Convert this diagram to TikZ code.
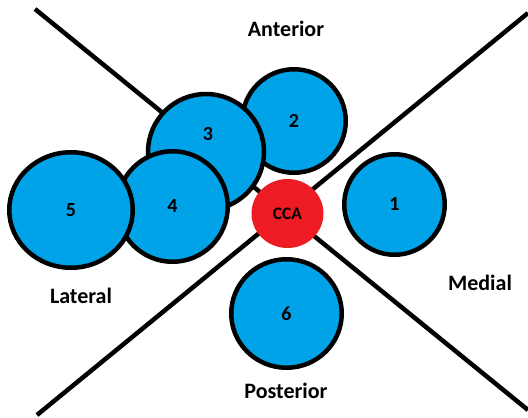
\documentclass[tikz,border=0pt]{standalone}
\usepackage{fontspec}
\setmainfont{Carlito}
\usepackage{xcolor}
\usetikzlibrary{shapes.geometric}
\definecolor{paintblue}{RGB}{0,162,232}
\definecolor{paintred}{RGB}{237,28,36}
\tikzset{vessel/.style={shape=ellipse,draw=black,line width=4.5pt,fill=paintblue,inner sep=0pt,font=\bfseries\fontsize{20}{20}\selectfont}}
\tikzset{num/.style={inner sep=0pt,font=\bfseries\fontsize{20}{20}\selectfont}}
\tikzset{CCAnode/.style={shape=ellipse,fill=paintred,inner sep=0pt,font=\bfseries\fontsize{17.5}{17.5}\selectfont}}
\tikzset{side/.style={anchor=base,inner sep=0pt,font=\bfseries\fontsize{22}{22}\selectfont}}

\begin{document}
\begin{tikzpicture}[x=1pt,y=-1pt]
	\useasboundingbox (0,0) rectangle (528,418);
	\coordinate (AL) at (35,9);
	\coordinate (PM) at (528,410);
	\coordinate (PL) at (37,415);
	\coordinate (AM) at (528,13);
	\draw[line width=4.5pt] (AL) -- (PM);
	\draw[line width=4.5pt] (PL) -- (AM);
	%
	\node[vessel,minimum width=103.5pt,minimum height=103.5pt] (v2) at (294,121) {2};
	\node[vessel,minimum width=116pt,minimum height=116pt] (v3) at (206,152) {};
	\node[num] (n3) at ([shift={(2,-18)}]v3.center) {3};
	\node[vessel,minimum width=110.5pt,minimum height=110.5pt] (v4) at (172.5,206.5) {4};
	\node[vessel,minimum width=123.5pt,minimum height=115.5pt] (v5) at (71,210) {5};
	\node[vessel,minimum width=100.5pt,minimum height=100.5pt] (v1) at (394.5,204.5) {1};
	\node[vessel,minimum width=110.5pt,minimum height=108.5pt] (v6) at (286.5,313.5) {6};
	\node[CCAnode,minimum width=72pt,minimum height=69pt] (cca) at (287.5,213.5) {CCA};
	%
	\node[side] (ant) at (286,36) {Anterior};
	\node[side] (lat) at (81,303) {Lateral};
	\node[side] (med) at (480,290) {Medial};
	\node[side] (post) at (286,398) {Posterior};
\end{tikzpicture}
\end{document}
